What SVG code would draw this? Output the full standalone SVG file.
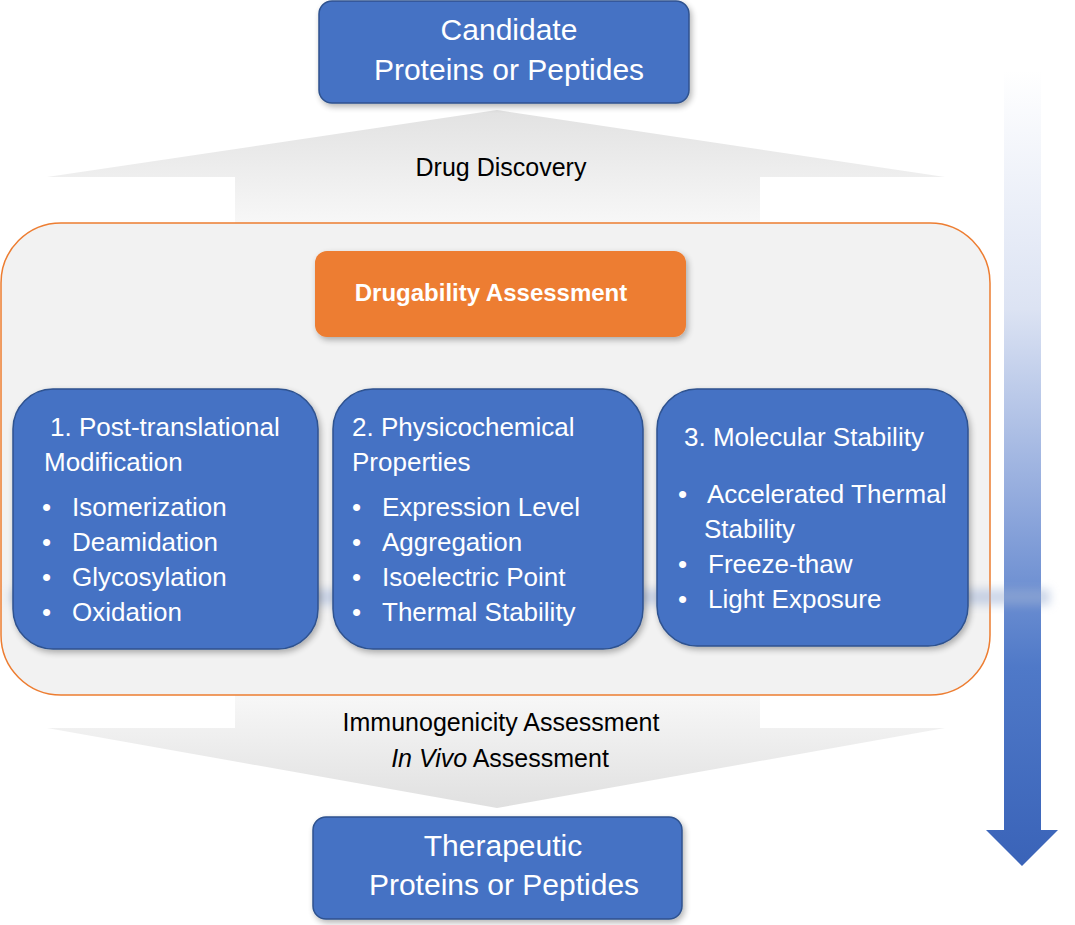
<svg xmlns="http://www.w3.org/2000/svg" width="1075" height="925" viewBox="0 0 1075 925">
<defs>
<linearGradient id="gUp" x1="0" y1="110" x2="0" y2="222" gradientUnits="userSpaceOnUse">
<stop offset="0" stop-color="#E2E2E2"/><stop offset="1" stop-color="#F7F7F7"/>
</linearGradient>
<linearGradient id="gDown" x1="0" y1="697" x2="0" y2="808" gradientUnits="userSpaceOnUse">
<stop offset="0" stop-color="#F7F7F7"/><stop offset="1" stop-color="#E0E0E0"/>
</linearGradient>
<linearGradient id="gSide" x1="0" y1="70" x2="0" y2="866" gradientUnits="userSpaceOnUse">
<stop offset="0" stop-color="#FFFFFF"/><stop offset="0.3" stop-color="#DCE3F3"/><stop offset="0.55" stop-color="#8FA8DC"/><stop offset="0.75" stop-color="#4F79C8"/><stop offset="1" stop-color="#3A63B8"/>
</linearGradient>
<filter id="shadow" x="-10%" y="-10%" width="125%" height="125%">
<feGaussianBlur in="SourceAlpha" stdDeviation="3"/><feOffset dx="2" dy="3"/>
<feComponentTransfer><feFuncA type="linear" slope="0.3"/></feComponentTransfer>
<feMerge><feMergeNode/><feMergeNode in="SourceGraphic"/></feMerge>
</filter>
<filter id="blur" x="-5%" y="-100%" width="110%" height="300%"><feGaussianBlur stdDeviation="5"/></filter>
<style>
.blue{fill:#4472C4;stroke:#2F528F;stroke-width:1.5}
.t{font-family:"Liberation Sans",Arial,sans-serif;fill:#ffffff}
.k{font-family:"Liberation Sans",Arial,sans-serif;fill:#000000;font-size:25px;text-anchor:middle}
.h{font-size:26px}
.big{font-size:30px;text-anchor:middle}
</style>
</defs>
<rect width="1075" height="925" fill="#ffffff"/>
<g id="connectors">
<polygon id="arrow-up" points="497,110 945,177 760,177 760,224 235,224 235,177 47,177" fill="url(#gUp)"/>
<polygon id="arrow-down" points="235,695 760,695 760,728 945,728 497,808 47,728 235,728" fill="url(#gDown)"/>
<polygon id="arrow-side" points="1004,70 1041,70 1041,830 1058,830 1022,866 986,830 1004,830" fill="url(#gSide)"/>
</g>
<g id="candidate">
<rect class="blue" x="319" y="1" width="370" height="102" rx="13" filter="url(#shadow)"/>
<text class="t big" x="509" y="40">Candidate</text>
<text class="t big" x="509" y="80">Proteins or Peptides</text>
</g>
<text class="k" x="501" y="176">Drug Discovery</text>
<g id="container">
<rect x="1" y="223" width="989" height="472" rx="60" fill="#F2F2F2" stroke="#ED7D31" stroke-width="1.5"/>
<rect x="10" y="589" width="1040" height="16" fill="#9DB0D4" opacity="0.5" filter="url(#blur)"/>
</g>
<g id="drugability">
<rect x="315" y="251" width="371" height="86" rx="12" fill="#ED7D31" filter="url(#shadow)"/>
<text class="t" x="491" y="301" font-size="24" font-weight="bold" text-anchor="middle">Drugability Assessment</text>
</g>
<g id="box1">
<rect class="blue" x="13" y="389" width="305" height="260" rx="40" filter="url(#shadow)"/>
<text class="t h" x="50" y="436">1. Post-translational</text>
<text class="t h" x="44" y="471">Modification</text>
<g class="t h">
<text x="42" y="516">•</text><text x="72" y="516">Isomerization</text>
<text x="42" y="551">•</text><text x="72" y="551">Deamidation</text>
<text x="42" y="586">•</text><text x="72" y="586">Glycosylation</text>
<text x="42" y="621">•</text><text x="72" y="621">Oxidation</text>
</g>
</g>
<g id="box2">
<rect class="blue" x="333" y="389" width="310" height="260" rx="40" filter="url(#shadow)"/>
<text class="t h" x="352" y="436">2. Physicochemical</text>
<text class="t h" x="352" y="471">Properties</text>
<g class="t h">
<text x="352" y="516">•</text><text x="382" y="516">Expression Level</text>
<text x="352" y="551">•</text><text x="382" y="551">Aggregation</text>
<text x="352" y="586">•</text><text x="382" y="586">Isoelectric Point</text>
<text x="352" y="621">•</text><text x="382" y="621">Thermal Stability</text>
</g>
</g>
<g id="box3">
<rect class="blue" x="657" y="389" width="311" height="257" rx="40" filter="url(#shadow)"/>
<text class="t h" x="684" y="446">3. Molecular Stability</text>
<g class="t h">
<text x="678" y="503">•</text><text x="707" y="503">Accelerated Thermal</text>
<text x="704" y="538">Stability</text>
<text x="678" y="573">•</text><text x="708" y="573">Freeze-thaw</text>
<text x="678" y="608">•</text><text x="708" y="608">Light Exposure</text>
</g>
</g>
<text class="k" x="501" y="731">Immunogenicity Assessment</text>
<text class="k" x="500" y="767"><tspan font-style="italic">In Vivo</tspan> Assessment</text>
<g id="therapeutic">
<rect class="blue" x="313" y="817" width="369" height="102" rx="13" filter="url(#shadow)"/>
<text class="t big" x="503" y="856">Therapeutic</text>
<text class="t big" x="504" y="895">Proteins or Peptides</text>
</g>
</svg>
